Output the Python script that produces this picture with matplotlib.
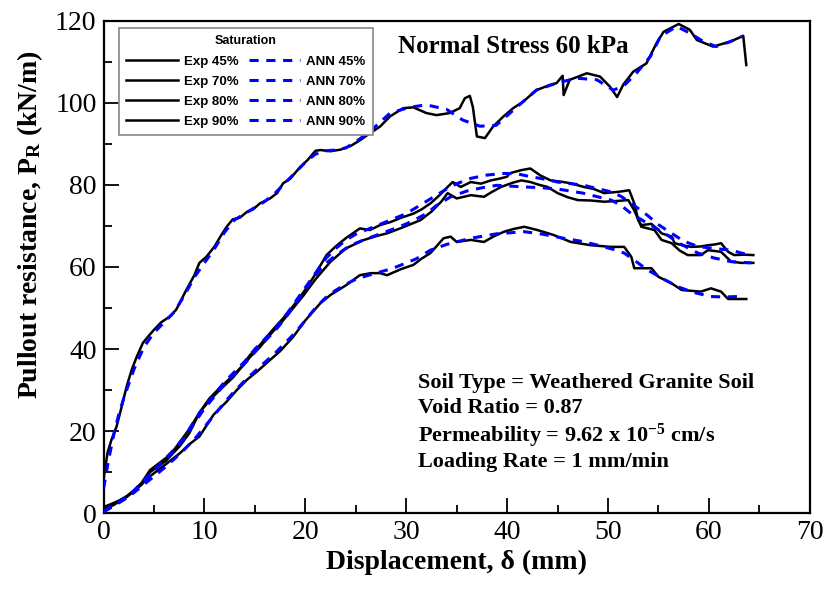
import numpy as np
import matplotlib
matplotlib.use("Agg")
import matplotlib.pyplot as plt

# ---------------- data ----------------
exp45 = [(0, 8), (0.1, 10), (0.4, 14.8), (0.8, 18), (1.3, 21.2), (1.8, 26), (2.3, 31), (2.8, 35),
         (3.3, 38.2), (3.9, 41.5), (4.5, 43.3), (5.0, 44.7), (5.7, 46.5), (6.6, 48), (7.2, 49.6),
         (7.7, 52), (8.2, 54.4), (9.0, 58), (9.5, 61), (10.2, 62.5), (11.0, 65), (11.6, 67.5),
         (12.2, 69.8), (12.8, 71.6), (13.5, 72), (14.2, 73.4), (14.8, 74), (15.5, 75.5), (16.5, 76.7),
         (17.2, 78), (17.8, 80.4), (18.5, 81.5), (19.5, 84.4), (20.2, 86), (21.0, 88.3), (21.5, 88.5),
         (22.5, 88.2), (23.5, 88.6), (24.5, 89.5), (25.5, 91), (26.4, 92.6), (27.4, 94.2), (28.4, 96.7),
         (29.7, 98.7), (30.7, 98.9), (32.0, 97.5), (33.0, 97), (34.3, 97.5), (35.3, 98.7), (35.8, 101.1),
         (36.3, 101.7), (36.6, 99), (37.0, 91.8), (37.8, 91.4), (38.6, 94.2), (39.6, 96.6), (40.6, 98.7),
         (41.6, 100.3), (42.9, 103.1), (44.3, 104.4), (44.9, 104.8), (45.5, 106.6), (45.6, 101.9),
         (46.2, 105.6), (47.9, 107.2), (49.2, 106.4), (50.2, 103.9), (50.9, 101.4), (51.5, 104.4),
         (52.5, 107.6), (53.8, 109.6), (54.8, 114.5), (55.5, 117.3), (57.0, 119.2), (58.1, 117.8),
         (58.8, 115.3), (60.4, 113.7), (62.1, 114.9), (63.4, 116.3), (63.7, 109.2)]

exp70 = [(0, 1.5), (0.5, 2), (1, 2.5), (1.5, 3), (2.3, 4.2), (3, 5.5), (3.8, 7.5), (4.6, 10.5),
         (5.4, 12), (6.2, 13.5), (7, 15.5), (7.6, 17.5), (8.5, 20.5), (9.5, 24.5), (10.5, 28),
         (11.5, 30.5), (12.8, 33.5), (13.6, 35.5), (14.5, 38.5), (15.5, 41), (16.8, 44.8), (17.8, 47.5),
         (18.8, 50.5), (19.8, 53.8), (20.8, 57.5), (22.1, 62.9), (23, 65), (24, 67), (25.4, 69.4),
         (26.4, 69), (27.4, 70.2), (28.5, 71), (29.5, 72), (30.7, 73), (31.5, 74), (32.4, 75.5),
         (33.3, 77.5), (34.1, 79.5), (34.6, 80.7), (35.4, 79.5), (36.4, 80.7), (37.4, 80.3), (38.4, 81.1),
         (39.2, 81.5), (40, 82), (40.2, 82.8), (41.4, 83.6), (42.3, 84), (43.3, 82.3), (44.3, 81.1),
         (45.3, 80.8), (46.3, 80.4), (47.6, 79.5), (48.6, 79), (49.6, 78), (51, 78.3), (52.1, 78.7),
         (52.6, 75.5), (53, 71.4), (53.3, 70.2), (54.3, 70.5), (55, 69), (55.3, 68.2), (56.3, 67.4),
         (56.6, 65.8), (57.5, 65.2), (58.3, 64.9), (59.2, 65), (59.9, 65.3), (60.6, 65.5), (61.2, 65.8),
         (61.9, 63.7), (62.5, 62.9), (63.5, 63), (64.4, 62.9)]

exp80 = [(0, 1), (1, 2), (2.3, 4), (3.8, 7), (4.6, 10), (6.2, 12.8), (7.6, 16.5), (8.5, 19.5),
         (9.5, 24.5), (10.5, 27.5), (11.5, 30), (12.8, 33), (14.5, 38), (15.5, 40.5), (16.8, 44.3),
         (17.8, 47), (18.8, 50), (19.8, 53), (21, 57), (22.5, 61.3), (24, 64.5), (25.7, 66.5), (27, 67.5),
         (28.1, 68.2), (29.5, 69.5), (31.4, 71.4), (32.5, 73.5), (33.5, 76), (34.1, 78), (35, 76.7),
         (36.4, 77.5), (37.7, 77.1), (38.5, 78.3), (39.4, 79.5), (40.5, 80.5), (41.4, 81.1), (42.3, 80.7),
         (43.2, 80), (44, 79.5), (45, 78), (46, 77), (47, 76.3), (48.3, 76.2), (49.6, 75.9), (51, 76.1),
         (52, 76.3), (52.6, 73.8), (53.3, 69.8), (54.6, 69), (55.3, 66.6), (56.3, 65.8), (57.1, 64),
         (57.9, 62.9), (59.2, 62.9), (59.9, 64.1), (61.2, 63.7), (62.2, 61.3), (63.2, 61), (64.4, 61)]

exp90 = [(0, 0.5), (0.9, 2.3), (2.3, 4), (3.5, 6.5), (4.6, 9), (6.2, 12), (7.6, 14.7), (8.5, 16.8),
         (9.5, 18.7), (10.9, 24), (12.2, 27.2), (13.2, 30), (14.2, 32.5), (15.2, 34.5), (16.2, 36.7),
         (17.5, 39.5), (18.8, 43), (20, 47), (21.5, 51.2), (22.5, 53.2), (24, 55.5), (25.4, 58),
         (26.5, 58.5), (27.4, 58.5), (28.1, 58), (29.5, 59.5), (30.7, 60.5), (31.5, 62), (32.4, 63.4),
         (33.7, 67), (34.4, 67.4), (35, 66.1), (36.4, 66.6), (37.7, 66.1), (38.7, 67.5), (39.7, 68.6),
         (40.7, 69.3), (41.7, 69.8), (43, 69), (44.6, 67.8), (46.3, 66.1), (48.3, 65.3), (50.3, 64.9),
         (51.6, 64.9), (52.3, 62.5), (52.6, 59.7), (54.3, 59.7), (55, 57.6), (56.3, 56), (57.3, 54.4),
         (59.2, 54), (60.2, 54.8), (61.2, 54), (61.9, 52.2), (63.7, 52.2)]

ann45 = [(0, 6), (0.5, 13), (1, 19), (1.5, 24), (2, 28), (3, 35), (4, 40.5), (5, 44), (6, 46.5),
         (7, 49), (8, 53), (9, 57.5), (10, 61), (11, 64.5), (12, 68.5), (13, 71.5), (14, 73), (15, 74.5),
         (16, 76), (17, 78), (18, 80.5), (19, 83), (20, 85.5), (21, 87.5), (22, 88.3), (23, 88.5),
         (24, 89), (25, 90.5), (26.4, 93), (28.4, 97.5), (30.3, 98.9), (32, 99.5), (34, 98.4),
         (35.6, 95.8), (37.3, 94.3), (38.9, 94.5), (40.6, 98.2), (42.9, 103.1), (44.9, 104.8),
         (46.9, 106), (48.9, 105.6), (50.5, 103.1), (51.5, 104), (52.8, 107.2), (54.2, 111.3),
         (55.2, 116.2), (56.8, 118.6), (58.1, 117), (59.4, 115), (60.7, 113.7), (62.1, 114.9),
         (63.4, 116.3)]

ann70 = [(0, 0.5), (1, 2), (2, 3.5), (3, 5.5), (4, 8), (5, 10.5), (6, 13), (7, 15.5), (8, 18.5),
         (9, 22.5), (10, 26), (11, 29), (12, 32), (13, 34.5), (14, 37), (15, 40), (16, 42.5), (17, 45),
         (18, 48), (19, 51.5), (20, 55), (21, 58.5), (22, 62), (23, 64.5), (24, 66.5), (25, 68), (26, 69),
         (27, 70), (28, 71), (29, 72), (30, 73), (31, 74.5), (32, 76), (33, 77.5), (34, 79), (35, 80.3),
         (36.4, 81.6), (38, 82.4), (39.7, 82.8), (41, 82.7), (42.3, 82), (43.5, 81.5), (45, 80.7),
         (47.6, 79.9), (50.3, 78.3), (51.3, 77.2), (52.3, 75.5), (53.9, 72.6), (55, 70.3), (56.3, 68.2),
         (57.5, 66.3), (58.9, 65), (60.5, 64.5), (62.2, 64.1), (63.2, 63.4), (64.2, 62.9)]

ann80 = [(0, 0.5), (1, 1.8), (2, 3.3), (3, 5.3), (4, 7.8), (5, 10.3), (6, 12.8), (7, 15.3), (8, 18.3),
         (9, 22), (10, 25.5), (11, 28.5), (12, 31.5), (13, 34), (14, 36.5), (15, 39.3), (16, 42), (17, 44.5),
         (18, 47.5), (19, 51), (20, 54.5), (21, 58), (22, 60.8), (23, 62.8), (24, 64.5), (25, 65.8),
         (26, 66.8), (27, 67.7), (28, 68.6), (29, 69.5), (30, 70.5), (31, 71.7), (32, 73), (33, 75),
         (34.4, 77.1), (36, 78.5), (37.5, 79.3), (39, 79.9), (41.7, 79.5), (43.5, 79.3), (45, 79),
         (47.5, 78), (50.3, 76.3), (51.3, 75), (52.3, 73), (54, 70.5), (55.6, 68.2), (57.2, 65.6),
         (58.9, 63.4), (60.5, 62.2), (62.2, 61.3), (64.2, 61)]

ann90 = [(0, 0.3), (1, 1.8), (2, 3.3), (3, 5), (4, 7), (5, 9), (6, 11), (7, 13.2), (8, 15.5), (9, 18),
         (10, 21), (11, 24), (12, 27), (13, 29.8), (14, 32.3), (15, 34.6), (16, 36.8), (17, 39), (18, 41.5),
         (19, 44), (20, 47), (21, 50), (22, 52.5), (23, 54.3), (24, 55.8), (25, 57), (26, 57.8), (27, 58.5),
         (28, 59.2), (29, 60), (30, 61), (31, 62), (32.4, 64.1), (34, 65.5), (36.4, 67), (39, 68.1),
         (41.7, 68.6), (43.5, 68), (45.6, 67), (47.5, 66.2), (49, 65.3), (50.5, 64.3), (51.6, 63.4),
         (52.8, 61.3), (53.9, 59.3), (55.4, 57.2), (56.9, 55.2), (58.5, 53.8), (60.2, 52.8), (61.5, 52.7),
         (62.9, 52.8)]

saturations = ["45%", "70%", "80%", "90%"]
exp_series = [exp45, exp70, exp80, exp90]
ann_series = [ann45, ann70, ann80, ann90]

# ---------------- fonts ----------------
plt.rcParams['font.family'] = ['Liberation Serif', 'DejaVu Serif']
plt.rcParams['mathtext.fontset'] = 'custom'
plt.rcParams['mathtext.rm'] = 'Liberation Serif'
plt.rcParams['mathtext.bf'] = 'Liberation Serif:bold'
plt.rcParams['mathtext.it'] = 'Liberation Serif:italic'

# ---------------- figure ----------------
fig = plt.figure(figsize=(8.29, 5.92), dpi=100)
ax = fig.add_axes([0.1249, 0.133, 0.852, 0.832])

exp_lines = []
ann_lines = []
for sat, e in zip(saturations, exp_series):
    e = np.array(e)
    ln, = ax.plot(e[:, 0], e[:, 1], color='black', lw=1.8, label='Exp ' + sat, zorder=2)
    exp_lines.append(ln)
for sat, a in zip(saturations, ann_series):
    a = np.array(a)
    ln, = ax.plot(a[:, 0], a[:, 1], color='#0000ff', lw=2.2, ls=(0, (3, 2.5)),
                  label='ANN ' + sat, zorder=3)
    ann_lines.append(ln)

ax.set_xlim(0, 70)
ax.set_ylim(0, 120)
ax.set_xticks(np.arange(0, 71, 10))
ax.set_xticks(np.arange(0, 71, 5), minor=True)
ax.set_yticks(np.arange(0, 121, 20))
ax.set_yticks(np.arange(0, 121, 10), minor=True)
ax.tick_params(which='both', direction='in', top=False, right=False, width=1.3, labelsize=20)
ax.tick_params(which='major', length=11, pad=5)
ax.tick_params(which='minor', length=6)
for s in ax.spines.values():
    s.set_linewidth(1.6)

ax.set_xlabel('Displacement, δ (mm)', fontsize=20, fontweight='bold', labelpad=3)
ax.set_ylabel(r'Pullout resistance, P$_{\mathbf{R}}$ (kN/m)', fontsize=20, fontweight='bold')
ax.yaxis.set_label_coords(-0.083, 0.587)

ax.text(29.2, 112.2, 'Normal Stress 60 kPa', fontsize=18, fontweight='bold', va='baseline')
notes = ['Soil Type = Weathered Granite Soil',
         'Void Ratio = 0.87',
         r'Permeability = 9.62 x 10$^{\mathbf{-5}}$ cm/s',
         'Loading Rate = 1 mm/min']
note_y = [30.46, 24.37, 17.45, 11.35]
for t, yy in zip(notes, note_y):
    ax.text(31.2, yy, t, fontsize=16, fontweight='bold', va='baseline')

leg = ax.legend(handles=exp_lines + ann_lines, ncol=2, loc='upper left',
                bbox_to_anchor=(0.022, 0.985), title='Saturation',
                prop={'family': 'Liberation Sans', 'weight': 'bold', 'size': 9.5},
                title_fontproperties={'family': 'Liberation Sans', 'weight': 'bold', 'size': 9},
                frameon=True, fancybox=False, edgecolor='#888888', framealpha=1,
                handlelength=3.9, handletextpad=0.45, columnspacing=0.8,
                labelspacing=0.6, borderpad=0.55, borderaxespad=0)
leg.get_frame().set_linewidth(1.2)

fig.savefig('out.png', dpi=100)
